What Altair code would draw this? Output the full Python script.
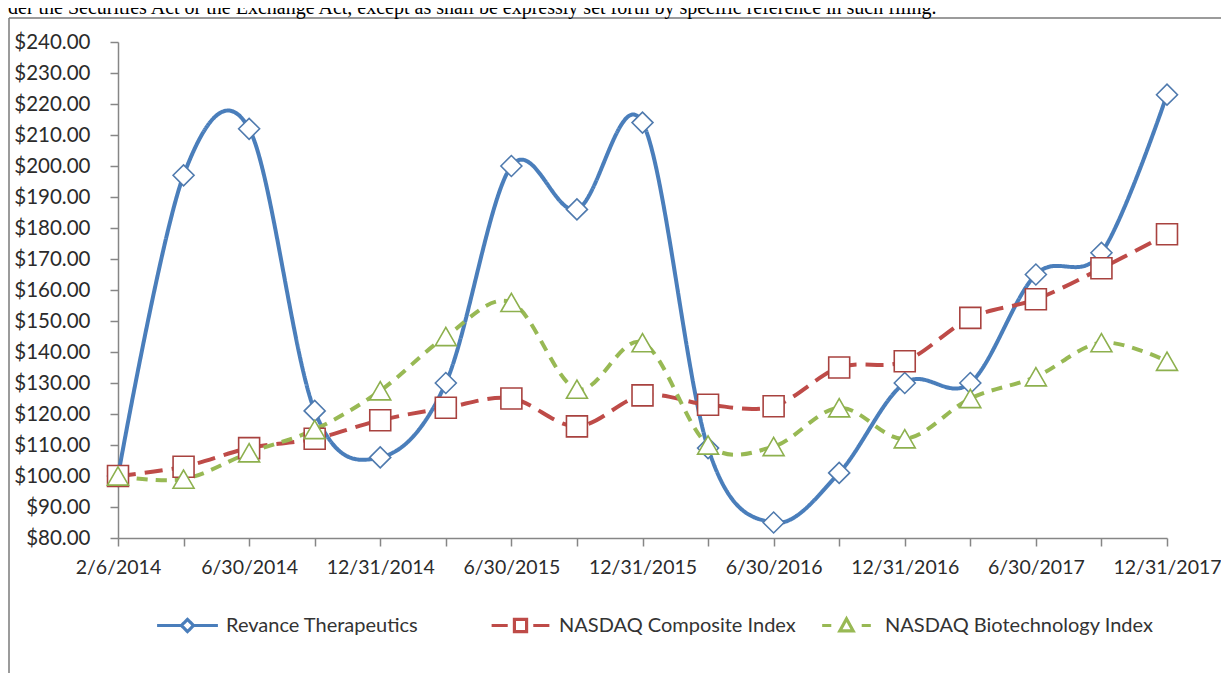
import json
import altair as alt
import pandas as pd

# ---------------- data ----------------
dates = ["2/6/2014", "3/31/2014", "6/30/2014", "9/30/2014", "12/31/2014",
         "3/31/2015", "6/30/2015", "9/30/2015", "12/31/2015", "3/31/2016",
         "6/30/2016", "9/30/2016", "12/31/2016", "3/31/2017", "6/30/2017",
         "9/30/2017", "12/31/2017"]
shown_labels = ["2/6/2014", "6/30/2014", "12/31/2014", "6/30/2015", "12/31/2015",
                "6/30/2016", "12/31/2016", "6/30/2017", "12/31/2017"]
series_names = ["Revance Therapeutics", "NASDAQ Composite Index",
                "NASDAQ Biotechnology Index"]
revance = [100, 197, 212, 121, 106, 130, 200, 186, 214, 109, 85, 101, 130, 130, 165, 172, 223]
nasdaq = [100, 103, 109, 112, 118, 122, 125, 116, 126, 123, 122.5, 135, 137, 151, 157, 167, 178]
biotech = [100, 99, 107.5, 115, 127.5, 145, 156, 128, 143, 110, 109.5, 122, 112, 125, 132, 143, 137]
y_ticks = [80, 90, 100, 110, 120, 130, 140, 150, 160, 170, 180, 190, 200, 210, 220, 230, 240]
header_text = ("der the Securities Act or the Exchange Act, except as shall be "
               "expressly set forth by specific reference in such filing.")

# ---------------- styles ----------------
line_colors = ["#4A7EBB", "#BE4B48", "#98B954"]
marker_colors = ["#4F7AAE", "#A8423F", "#8DB04E"]
shapes = ["diamond", "square", "triangle-up"]
dashes = [[1, 0], [18, 9], [11, 8]]
legend_x = [37, 370, 696]
legend_paths = [
    "M-1,0L-0.2,0M0.2,0L1,0M0,-0.2L0.2,0L0,0.2L-0.2,0Z",
    "M-0.95,0L-0.42,0M0.42,0L0.95,0M-0.2,-0.2L0.2,-0.2L0.2,0.2L-0.2,0.2Z",
    "M-0.8,0L-0.5,0M0.5,0L0.8,0M0,-0.22L0.22,0.18L-0.22,0.18Z",
]
FONT = "Lato"

rows = []
for name, vals in zip(series_names, [revance, nasdaq, biotech]):
    for i, (d, v) in enumerate(zip(dates, vals)):
        rows.append({"series": name, "date": d, "idx": i, "value": v})
df = pd.DataFrame(rows)

label_expr = ("indexof(" + json.dumps(shown_labels) +
              ", datum.value) >= 0 ? datum.value : ''")

x_enc = alt.X("date:N", sort=dates,
              scale=alt.Scale(type="point", padding=0),
              axis=alt.Axis(title=None, labelAngle=0, labelExpr=label_expr,
                            labelOverlap=False, labelFlush=False,
                            tickSize=8, labelPadding=12, grid=False,
                            labelFont=FONT, labelFontSize=19.5,
                            labelColor="#2b2b2b", domainColor="#868686",
                            tickColor="#868686", domainWidth=1.5,
                            tickWidth=1.5))
y_enc = alt.Y("value:Q",
              scale=alt.Scale(domain=[80, 240], nice=False, zero=False),
              axis=alt.Axis(title=None, values=y_ticks, format="$.2f",
                            tickSize=8, labelPadding=20, grid=False,
                            labelOverlap=False, labelFont=FONT,
                            labelFontSize=20.5, labelColor="#2b2b2b",
                            domainColor="#868686", tickColor="#868686",
                            domainWidth=1.5, tickWidth=1.5))

line_layers = []
for name, col, dash, lx, path in zip(series_names, line_colors, dashes,
                                     legend_x, legend_paths):
    lg = alt.Legend(
        title=None, orient="none", legendX=lx, legendY=551,
        direction="horizontal", symbolSize=3700, symbolStrokeWidth=3.2,
        symbolType=path, symbolFillColor="white", symbolDash=[1, 0],
        symbolOpacity=1, labelFont=FONT, labelFontSize=20,
        labelColor="#333333", labelOffset=6, padding=0, labelLimit=600)
    layer = alt.Chart(df[df["series"] == name]).mark_line(
        interpolate="cardinal", tension=0, strokeWidth=4, strokeDash=dash
    ).encode(
        x=x_enc, y=y_enc,
        color=alt.Color("series:N", scale=alt.Scale(domain=[name], range=[col]),
                        legend=lg),
        order=alt.Order("idx:Q"),
    )
    line_layers.append(layer)

points = alt.Chart(df).mark_point(filled=True, fill="white", size=440,
                                  strokeWidth=1.6, opacity=1).encode(
    x=x_enc, y=y_enc,
    stroke=alt.Stroke("series:N", scale=alt.Scale(domain=series_names, range=marker_colors),
                      legend=None),
    shape=alt.Shape("series:N", scale=alt.Scale(domain=series_names, range=shapes),
                    legend=None),
)

one = pd.DataFrame({"t": [header_text]})
header = alt.Chart(one).mark_text(align="left", baseline="alphabetic",
                                  font="Liberation Serif", fontSize=20,
                                  color="black").encode(
    x=alt.value(-110), y=alt.value(-28), text="t:N")

border_top = alt.Chart(one).mark_rule(color="#7a7a7a", strokeWidth=1.5).encode(
    x=alt.value(-109), x2=alt.value(1110), y=alt.value(-24))
border_left = alt.Chart(one).mark_rule(color="#7a7a7a", strokeWidth=1.5).encode(
    x=alt.value(-109), y=alt.value(-24), y2=alt.value(640))

chart = alt.layer(border_top, border_left, header, *line_layers, points).resolve_scale(
    color="independent"
).resolve_legend(color="independent").properties(
    width=1049, height=496,
    autosize=alt.AutoSizeParams(type="none"),
    padding={"left": 110, "top": 34, "right": 54, "bottom": 135},
    background="white",
).configure_view(stroke=None)

chart.save("out.html", embed_options={"renderer": "svg", "actions": False})
